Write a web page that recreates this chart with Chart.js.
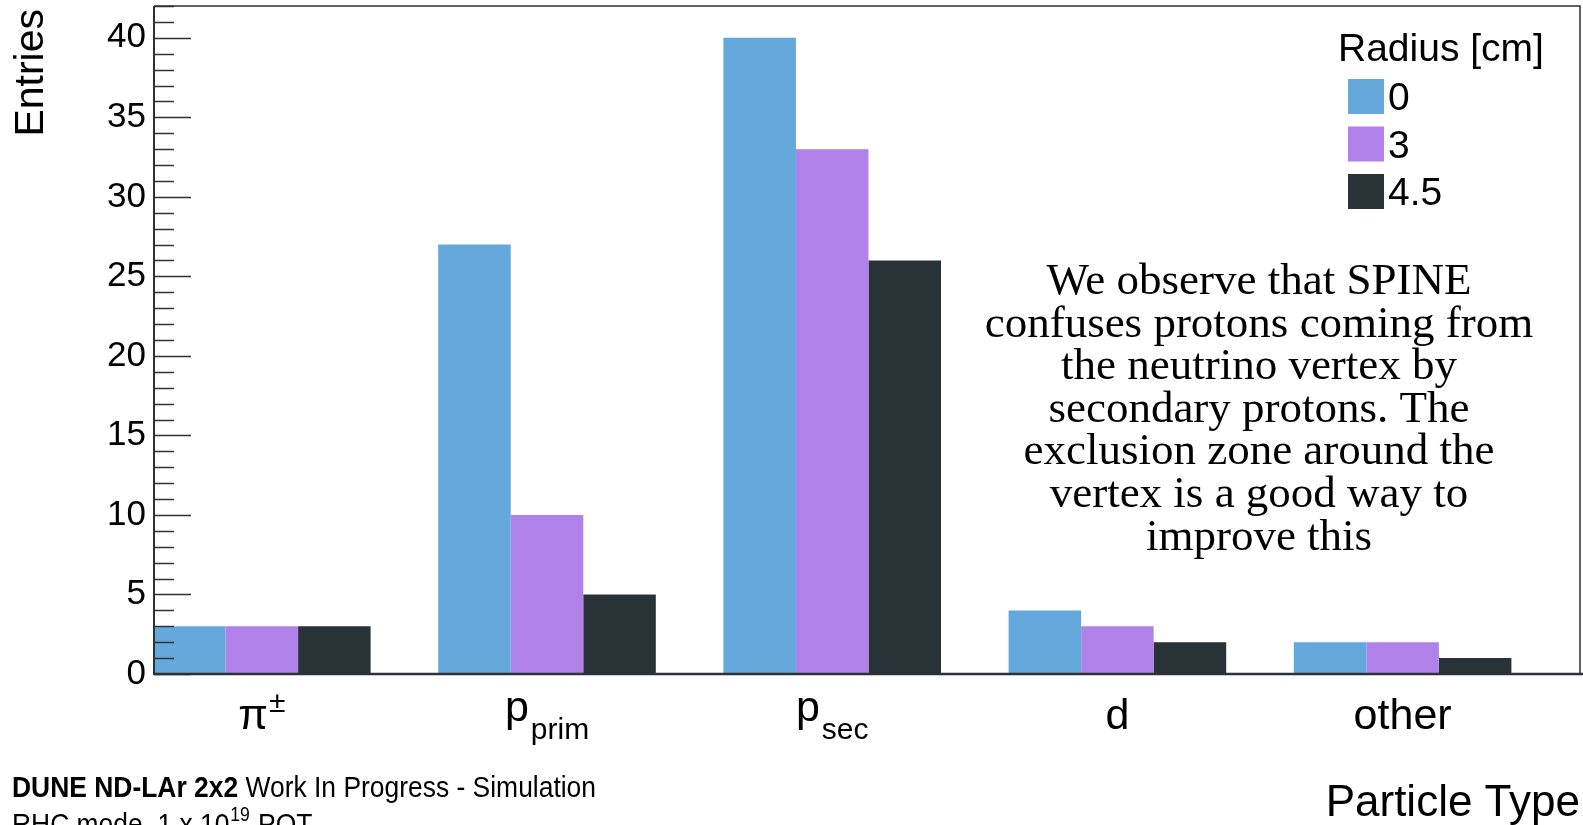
<!DOCTYPE html>
<html>
<head>
<meta charset="utf-8">
<script src="https://cdn.jsdelivr.net/npm/chart.js@4.4.1/dist/chart.umd.min.js"></script>
<style>
  html, body { margin: 0; padding: 0; background: #ffffff; }
  canvas { display: block; }
</style>
</head>
<body>
<canvas id="c" width="1583" height="825"></canvas>
<script>
// Particle categories (main symbol, subscript, superscript)
const categoryMain = ['π', 'p', 'p', 'd', 'other'];
const categorySub  = ['', 'prim', 'sec', '', ''];
const categorySup  = ['±', '', '', '', ''];

// Exclusion radius around the vertex, one series per radius
const radiusLabels = ['0', '3', '4.5'];
const entriesR0  = [3, 27, 40, 4, 2];
const entriesR3  = [3, 10, 33, 3, 2];
const entriesR45 = [3, 5, 26, 2, 1];

const seriesColors = ['#65a9dc', '#b082e9', '#283237'];

const yMajorStep = 5;
const yMax = 42;

const noteLines = [
  'We observe that SPINE',
  'confuses protons coming from',
  'the neutrino vertex by',
  'secondary protons. The',
  'exclusion zone around the',
  'vertex is a good way to',
  'improve this'
];

const SANS = '"Liberation Sans", Arial, Helvetica, sans-serif';
const SERIF = '"Liberation Serif", "Times New Roman", serif';

function toPoints(values) {
  return values.map((v, i) => ({ x: i, y: v }));
}

const seriesValues = [entriesR0, entriesR3, entriesR45];
const datasets = seriesValues.map((vals, k) => ({
  label: radiusLabels[k],
  data: toPoints(vals),
  backgroundColor: seriesColors[k],
  borderWidth: 0,
  categoryPercentage: 0.763,
  barPercentage: 1.0
}));

const decorations = {
  id: 'decorations',
  beforeDraw(chart) {
    const ctx = chart.ctx;
    ctx.save();
    ctx.fillStyle = '#ffffff';
    ctx.fillRect(0, 0, chart.width, chart.height);
    ctx.restore();
  },
  afterDraw(chart) {
    const ctx = chart.ctx;
    const area = chart.chartArea;
    const xs = chart.scales.x;
    const ys = chart.scales.y;
    ctx.save();

    // frame
    ctx.strokeStyle = '#2e3236';
    ctx.lineWidth = 1.5;
    ctx.beginPath();
    ctx.moveTo(area.left, area.top);
    ctx.lineTo(area.right, area.top);
    ctx.lineTo(area.right, area.bottom);
    ctx.stroke();
    ctx.lineWidth = 2;
    ctx.beginPath();
    ctx.moveTo(area.left, area.top);
    ctx.lineTo(area.left, area.bottom + 1);
    ctx.stroke();
    ctx.lineWidth = 2.5;
    ctx.beginPath();
    ctx.moveTo(area.left, area.bottom);
    ctx.lineTo(chart.width, area.bottom);
    ctx.stroke();

    // inward y ticks
    ctx.lineWidth = 1.5;
    ys.ticks.forEach(t => {
      const y = Math.round(ys.getPixelForValue(t.value)) + 0.5;
      const len = (t.value % yMajorStep === 0) ? 37 : 20;
      ctx.beginPath();
      ctx.moveTo(area.left, y);
      ctx.lineTo(area.left + len, y);
      ctx.stroke();
    });

    // category labels
    ctx.fillStyle = '#000000';
    ctx.textBaseline = 'alphabetic';
    ctx.textAlign = 'left';
    categoryMain.forEach((main, i) => {
      const cx = xs.getPixelForValue(i);
      const mainFont = '43px ' + SANS;
      const smallFont = '30px ' + SANS;
      ctx.font = mainFont;
      const wMain = ctx.measureText(main).width;
      let wExtra = 0;
      const sub = categorySub[i], sup = categorySup[i];
      ctx.font = smallFont;
      if (sub) wExtra = ctx.measureText(sub).width + 2;
      if (sup) wExtra = ctx.measureText(sup).width + 1;
      const x0 = cx - (wMain + wExtra) / 2;
      let base = 729;
      if (sub) base = 721;
      ctx.font = mainFont;
      ctx.fillText(main, x0, base);
      ctx.font = smallFont;
      if (sub) ctx.fillText(sub, x0 + wMain + 2, base + 18);
      if (sup) ctx.fillText(sup, x0 + wMain + 1, base - 17);
    });

    // axis titles
    ctx.font = '41px ' + SANS;
    ctx.save();
    ctx.translate(43, area.top + 3);
    ctx.rotate(-Math.PI / 2);
    ctx.textAlign = 'right';
    ctx.fillText('Entries', 0, 0);
    ctx.restore();

    ctx.font = '44px ' + SANS;
    ctx.textAlign = 'right';
    ctx.fillText('Particle Type', area.right, 816);

    // legend
    ctx.textAlign = 'left';
    ctx.font = '39px ' + SANS;
    ctx.fillText('Radius [cm]', 1338, 61);
    chart.data.datasets.forEach((ds, k) => {
      const top = 79 + k * 47.5;
      ctx.fillStyle = ds.backgroundColor;
      ctx.fillRect(1348, top, 36, 35);
      ctx.fillStyle = '#000000';
      ctx.fillText(ds.label, 1388, top + 31);
    });

    // note
    ctx.font = '45px ' + SERIF;
    ctx.textAlign = 'center';
    noteLines.forEach((line, j) => {
      ctx.fillText(line, 1259, 294 + j * 42.6);
    });

    // experiment label, fitted to its width
    const boldPart = 'DUNE ND-LAr 2x2';
    const regPart = ' Work In Progress - Simulation';
    const fs = 30;
    ctx.textAlign = 'left';
    ctx.font = 'bold ' + fs + 'px ' + SANS;
    const wb = ctx.measureText(boldPart).width;
    ctx.font = fs + 'px ' + SANS;
    const wr = ctx.measureText(regPart).width;
    const sx = 584 / (wb + wr);
    ctx.save();
    ctx.translate(12, 797);
    ctx.scale(sx, 1);
    ctx.font = 'bold ' + fs + 'px ' + SANS;
    ctx.fillText(boldPart, 0, 0);
    ctx.font = fs + 'px ' + SANS;
    ctx.fillText(regPart, wb, 0);
    ctx.restore();

    ctx.save();
    ctx.translate(12, 834);
    ctx.scale(sx, 1);
    ctx.font = fs + 'px ' + SANS;
    const p1 = 'RHC mode, 1 x 10';
    ctx.fillText(p1, 0, 0);
    const w1 = ctx.measureText(p1).width;
    ctx.font = '20px ' + SANS;
    ctx.fillText('19', w1 + 1, -13);
    const w2 = ctx.measureText('19').width;
    ctx.font = fs + 'px ' + SANS;
    ctx.fillText(' POT', w1 + w2 + 2, 0);
    ctx.restore();

    ctx.restore();
  }
};

new Chart(document.getElementById('c'), {
  type: 'bar',
  data: { datasets },
  options: {
    responsive: false,
    animation: false,
    devicePixelRatio: 1,
    layout: { padding: { top: 6, right: 3, bottom: 151, left: 0 } },
    plugins: {
      legend: { display: false },
      tooltip: { enabled: false }
    },
    scales: {
      x: {
        type: 'linear',
        min: -0.378,
        max: 4.622,
        offset: false,
        display: false,
        grid: { offset: false },
        // one tick per category so bar widths follow the category spacing
        afterBuildTicks: s => { s.ticks = categoryMain.map((_, i) => ({ value: i })); }
      },
      y: {
        min: 0,
        max: yMax,
        grid: { display: false, drawTicks: false },
        border: { display: false },
        ticks: {
          stepSize: 1,
          autoSkip: false,
          padding: 8,
          color: '#000000',
          font: { family: SANS, size: 35 },
          callback: v => (v % yMajorStep === 0 ? String(v) : '')
        },
        afterFit: s => { s.width = 154; s.paddingTop = 0; s.paddingBottom = 0; }
      }
    }
  },
  plugins: [decorations]
});
</script>
</body>
</html>
